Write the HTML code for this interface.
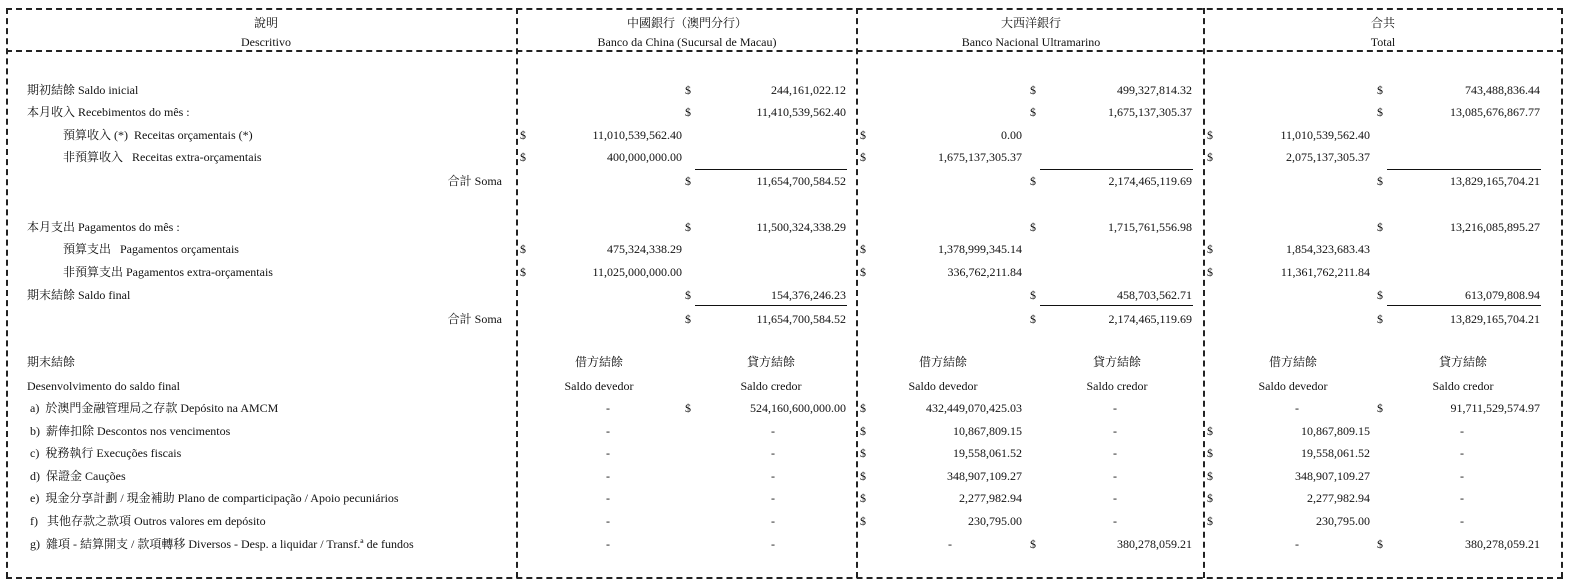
<!DOCTYPE html>
<html><head><meta charset="utf-8"><style>
body{margin:0;width:1573px;height:588px;background:#fff;position:relative;overflow:hidden;font-family:"Liberation Serif","Noto Serif CJK SC","Noto Sans CJK TC",serif;font-size:12px;color:#111}
.t{position:absolute;line-height:14px;white-space:nowrap}
.c{position:absolute;line-height:14px;white-space:nowrap;transform:translateX(-50%)}
.h{position:absolute;border-top:2px dashed #222}
.v{position:absolute;border-left:2px dashed #222}
.u{position:absolute;border-top:1px solid #111;height:0}
</style></head><body>
<div class="h" style="left:6px;top:8px;width:1557px"></div>
<div class="h" style="left:6px;top:50px;width:1557px"></div>
<div class="h" style="left:6px;top:577px;width:1557px"></div>
<div class="v" style="left:6px;top:8px;height:570px"></div>
<div class="v" style="left:516px;top:8px;height:570px"></div>
<div class="v" style="left:856px;top:8px;height:570px"></div>
<div class="v" style="left:1203px;top:8px;height:570px"></div>
<div class="v" style="left:1561px;top:8px;height:570px"></div>

<div class="c" style="left:266px;top:16px">說明</div>
<div class="c" style="left:266px;top:35px">Descritivo</div>
<div class="c" style="left:687px;top:16px">中國銀行（澳門分行）</div>
<div class="c" style="left:687px;top:35px">Banco da China (Sucursal de Macau)</div>
<div class="c" style="left:1031px;top:16px">大西洋銀行</div>
<div class="c" style="left:1031px;top:35px">Banco Nacional Ultramarino</div>
<div class="c" style="left:1383px;top:16px">合共</div>
<div class="c" style="left:1383px;top:35px">Total</div>

<!-- left labels -->
<div class="t" style="left:27px;top:83px">期初結餘 Saldo inicial</div>
<div class="t" style="left:27px;top:105px">本月收入 Recebimentos do mês :</div>
<div class="t" style="left:63px;top:128px">預算收入 (*)&nbsp; Receitas orçamentais (*)</div>
<div class="t" style="left:63px;top:150px">非預算收入&nbsp;&nbsp; Receitas extra-orçamentais</div>
<div class="t" style="right:1071px;top:174px">合計 Soma</div>
<div class="t" style="left:27px;top:220px">本月支出 Pagamentos do mês :</div>
<div class="t" style="left:63px;top:242px">預算支出&nbsp;&nbsp; Pagamentos orçamentais</div>
<div class="t" style="left:63px;top:265px">非預算支出 Pagamentos extra-orçamentais</div>
<div class="t" style="left:27px;top:288px">期末結餘 Saldo final</div>
<div class="t" style="right:1071px;top:312px">合計 Soma</div>
<div class="t" style="left:27px;top:355px">期末結餘</div>
<div class="t" style="left:27px;top:379px">Desenvolvimento do saldo final</div>
<div class="t" style="left:30px;top:401px">a)&nbsp; 於澳門金融管理局之存款 Depósito na AMCM</div>
<div class="t" style="left:30px;top:424px">b)&nbsp; 薪俸扣除 Descontos nos vencimentos</div>
<div class="t" style="left:30px;top:446px">c)&nbsp; 稅務執行 Execuções fiscais</div>
<div class="t" style="left:30px;top:469px">d)&nbsp; 保證金 Cauções</div>
<div class="t" style="left:30px;top:491px">e)&nbsp; 現金分享計劃 / 現金補助 Plano de comparticipação / Apoio pecuniários</div>
<div class="t" style="left:30px;top:514px">f)&nbsp;&nbsp; 其他存款之款項 Outros valores em depósito</div>
<div class="t" style="left:30px;top:537px">g)&nbsp; 雜項 - 結算開支 / 款項轉移 Diversos - Desp. a liquidar / Transf.ª de fundos</div>

<!-- BOC -->
<div class="t" style="left:685px;top:83px">$</div><div class="t" style="right:727px;top:83px">244,161,022.12</div>
<div class="t" style="left:685px;top:105px">$</div><div class="t" style="right:727px;top:105px">11,410,539,562.40</div>
<div class="t" style="left:520px;top:128px">$</div><div class="t" style="right:891px;top:128px">11,010,539,562.40</div>
<div class="t" style="left:520px;top:150px">$</div><div class="t" style="right:891px;top:150px">400,000,000.00</div>
<div class="u" style="left:695px;top:169px;width:152px"></div>
<div class="t" style="left:685px;top:174px">$</div><div class="t" style="right:727px;top:174px">11,654,700,584.52</div>
<div class="t" style="left:685px;top:220px">$</div><div class="t" style="right:727px;top:220px">11,500,324,338.29</div>
<div class="t" style="left:520px;top:242px">$</div><div class="t" style="right:891px;top:242px">475,324,338.29</div>
<div class="t" style="left:520px;top:265px">$</div><div class="t" style="right:891px;top:265px">11,025,000,000.00</div>
<div class="t" style="left:685px;top:288px">$</div><div class="t" style="right:727px;top:288px">154,376,246.23</div>
<div class="u" style="left:695px;top:305px;width:152px"></div>
<div class="t" style="left:685px;top:312px">$</div><div class="t" style="right:727px;top:312px">11,654,700,584.52</div>

<!-- BNU -->
<div class="t" style="left:1030px;top:83px">$</div><div class="t" style="right:381px;top:83px">499,327,814.32</div>
<div class="t" style="left:1030px;top:105px">$</div><div class="t" style="right:381px;top:105px">1,675,137,305.37</div>
<div class="t" style="left:860px;top:128px">$</div><div class="t" style="right:551px;top:128px">0.00</div>
<div class="t" style="left:860px;top:150px">$</div><div class="t" style="right:551px;top:150px">1,675,137,305.37</div>
<div class="u" style="left:1040px;top:169px;width:153px"></div>
<div class="t" style="left:1030px;top:174px">$</div><div class="t" style="right:381px;top:174px">2,174,465,119.69</div>
<div class="t" style="left:1030px;top:220px">$</div><div class="t" style="right:381px;top:220px">1,715,761,556.98</div>
<div class="t" style="left:860px;top:242px">$</div><div class="t" style="right:551px;top:242px">1,378,999,345.14</div>
<div class="t" style="left:860px;top:265px">$</div><div class="t" style="right:551px;top:265px">336,762,211.84</div>
<div class="t" style="left:1030px;top:288px">$</div><div class="t" style="right:381px;top:288px">458,703,562.71</div>
<div class="u" style="left:1040px;top:305px;width:153px"></div>
<div class="t" style="left:1030px;top:312px">$</div><div class="t" style="right:381px;top:312px">2,174,465,119.69</div>

<!-- Total -->
<div class="t" style="left:1377px;top:83px">$</div><div class="t" style="right:33px;top:83px">743,488,836.44</div>
<div class="t" style="left:1377px;top:105px">$</div><div class="t" style="right:33px;top:105px">13,085,676,867.77</div>
<div class="t" style="left:1207px;top:128px">$</div><div class="t" style="right:203px;top:128px">11,010,539,562.40</div>
<div class="t" style="left:1207px;top:150px">$</div><div class="t" style="right:203px;top:150px">2,075,137,305.37</div>
<div class="u" style="left:1387px;top:169px;width:154px"></div>
<div class="t" style="left:1377px;top:174px">$</div><div class="t" style="right:33px;top:174px">13,829,165,704.21</div>
<div class="t" style="left:1377px;top:220px">$</div><div class="t" style="right:33px;top:220px">13,216,085,895.27</div>
<div class="t" style="left:1207px;top:242px">$</div><div class="t" style="right:203px;top:242px">1,854,323,683.43</div>
<div class="t" style="left:1207px;top:265px">$</div><div class="t" style="right:203px;top:265px">11,361,762,211.84</div>
<div class="t" style="left:1377px;top:288px">$</div><div class="t" style="right:33px;top:288px">613,079,808.94</div>
<div class="u" style="left:1387px;top:305px;width:154px"></div>
<div class="t" style="left:1377px;top:312px">$</div><div class="t" style="right:33px;top:312px">13,829,165,704.21</div>

<!-- bottom headers -->
<div class="c" style="left:599px;top:355px">借方結餘</div><div class="c" style="left:599px;top:379px">Saldo devedor</div>
<div class="c" style="left:771px;top:355px">貸方結餘</div><div class="c" style="left:771px;top:379px">Saldo credor</div>
<div class="c" style="left:943px;top:355px">借方結餘</div><div class="c" style="left:943px;top:379px">Saldo devedor</div>
<div class="c" style="left:1117px;top:355px">貸方結餘</div><div class="c" style="left:1117px;top:379px">Saldo credor</div>
<div class="c" style="left:1293px;top:355px">借方結餘</div><div class="c" style="left:1293px;top:379px">Saldo devedor</div>
<div class="c" style="left:1463px;top:355px">貸方結餘</div><div class="c" style="left:1463px;top:379px">Saldo credor</div>

<!-- BOC bottom -->
<div class="c" style="left:608px;top:401px">-</div><div class="t" style="left:685px;top:401px">$</div><div class="t" style="right:727px;top:401px">524,160,600,000.00</div>
<div class="c" style="left:608px;top:424px">-</div><div class="c" style="left:773px;top:424px">-</div>
<div class="c" style="left:608px;top:446px">-</div><div class="c" style="left:773px;top:446px">-</div>
<div class="c" style="left:608px;top:469px">-</div><div class="c" style="left:773px;top:469px">-</div>
<div class="c" style="left:608px;top:491px">-</div><div class="c" style="left:773px;top:491px">-</div>
<div class="c" style="left:608px;top:514px">-</div><div class="c" style="left:773px;top:514px">-</div>
<div class="c" style="left:608px;top:537px">-</div><div class="c" style="left:773px;top:537px">-</div>

<!-- BNU bottom -->
<div class="t" style="left:860px;top:401px">$</div><div class="t" style="right:551px;top:401px">432,449,070,425.03</div><div class="c" style="left:1115px;top:401px">-</div>
<div class="t" style="left:860px;top:424px">$</div><div class="t" style="right:551px;top:424px">10,867,809.15</div><div class="c" style="left:1115px;top:424px">-</div>
<div class="t" style="left:860px;top:446px">$</div><div class="t" style="right:551px;top:446px">19,558,061.52</div><div class="c" style="left:1115px;top:446px">-</div>
<div class="t" style="left:860px;top:469px">$</div><div class="t" style="right:551px;top:469px">348,907,109.27</div><div class="c" style="left:1115px;top:469px">-</div>
<div class="t" style="left:860px;top:491px">$</div><div class="t" style="right:551px;top:491px">2,277,982.94</div><div class="c" style="left:1115px;top:491px">-</div>
<div class="t" style="left:860px;top:514px">$</div><div class="t" style="right:551px;top:514px">230,795.00</div><div class="c" style="left:1115px;top:514px">-</div>
<div class="c" style="left:950px;top:537px">-</div><div class="t" style="left:1030px;top:537px">$</div><div class="t" style="right:381px;top:537px">380,278,059.21</div>

<!-- Total bottom -->
<div class="c" style="left:1297px;top:401px">-</div><div class="t" style="left:1377px;top:401px">$</div><div class="t" style="right:33px;top:401px">91,711,529,574.97</div>
<div class="t" style="left:1207px;top:424px">$</div><div class="t" style="right:203px;top:424px">10,867,809.15</div><div class="c" style="left:1462px;top:424px">-</div>
<div class="t" style="left:1207px;top:446px">$</div><div class="t" style="right:203px;top:446px">19,558,061.52</div><div class="c" style="left:1462px;top:446px">-</div>
<div class="t" style="left:1207px;top:469px">$</div><div class="t" style="right:203px;top:469px">348,907,109.27</div><div class="c" style="left:1462px;top:469px">-</div>
<div class="t" style="left:1207px;top:491px">$</div><div class="t" style="right:203px;top:491px">2,277,982.94</div><div class="c" style="left:1462px;top:491px">-</div>
<div class="t" style="left:1207px;top:514px">$</div><div class="t" style="right:203px;top:514px">230,795.00</div><div class="c" style="left:1462px;top:514px">-</div>
<div class="c" style="left:1297px;top:537px">-</div><div class="t" style="left:1377px;top:537px">$</div><div class="t" style="right:33px;top:537px">380,278,059.21</div>
</body></html>
